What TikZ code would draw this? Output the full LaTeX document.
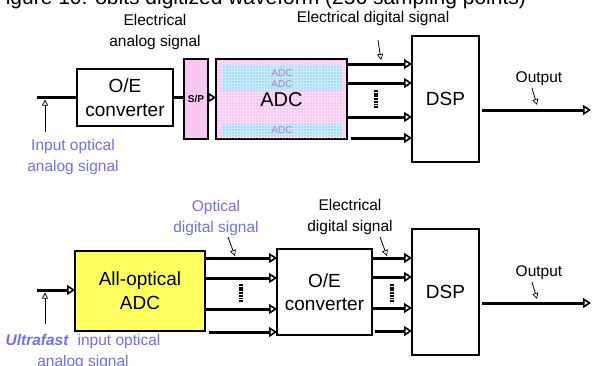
\documentclass[tikz,border=0pt]{standalone}
\usepackage{fontspec}
\setmainfont{Liberation Sans}
\usetikzlibrary{arrows.meta,calc,patterns}
\definecolor{lblue}{RGB}{112,112,240}
\definecolor{pinkf}{RGB}{248,200,242}
\definecolor{bandb}{RGB}{168,222,250}
\definecolor{yell}{RGB}{255,255,96}
\definecolor{smalladc}{RGB}{176,130,184}
\tikzset{
  every node/.style={inner sep=0pt, outer sep=0pt},
  wire/.style={line width=3pt},
  bighead/.style={wire, -{Triangle[open,length=8pt,width=10pt,line width=1.6pt]}},
  leader/.style={line width=0.8pt, -{Triangle[open,length=6pt,width=6pt,line width=0.7pt]}},
  lab/.style={font=\fontsize{15.5}{21}\selectfont, align=center},
  boxtxt/.style={font=\fontsize{19}{24}\selectfont, align=center},
  smalltxt/.style={font=\fontsize{10}{12}\selectfont, text=smalladc},
  dotsbar/.style={line width=3.6pt, dash pattern=on 1.8pt off 0.9pt},
}
\begin{document}
\begin{tikzpicture}[x=1pt,y=-1pt]
\clip (0,0) rectangle (592,365);
\fill[white] (0,0) rectangle (592,365);
% title (cropped by the frame, as in the reference)
\node[anchor=base east, font=\fontsize{21}{24}\selectfont] (title) at (526,4) {Figure 10: 8bits digitized waveform (256 sampling points)};

% ---------------- top row ----------------
\node[draw, line width=2.5pt, minimum width=96pt, minimum height=57pt, boxtxt] (oe1) at (125,97.5) {O/E\\converter};
\node[draw, line width=1.5pt, fill=pinkf, minimum width=24pt, minimum height=80pt, font=\bfseries\fontsize{10}{12}\selectfont] (sp) at (196,99) {S/P};
\node[draw, line width=1.6pt, fill=pinkf, minimum width=131pt, minimum height=80pt] (adc1) at (281.5,99) {};
\fill[bandb] ($(adc1.north west)+(6,6)$) rectangle ($(adc1.north east)+(-5,32)$);
\fill[bandb] ($(adc1.north west)+(6,65)$) rectangle ($(adc1.north east)+(-5,77)$);
\fill[pattern=grid, pattern color=white, opacity=0.35] ($(adc1.north west)+(1,1)$) rectangle ($(adc1.south east)+(-1,-1)$);
\node[boxtxt, font=\fontsize{20}{24}\selectfont] (adct) at ($(adc1.center)+(0,1)$) {ADC};
\node[smalltxt] (s1) at (282,73) {ADC};
\node[smalltxt] (s2) at (282,84) {ADC};
\node[smalltxt] (s3) at (282,130) {ADC};
\node[draw, line width=1.3pt, minimum width=67pt, minimum height=126pt, boxtxt] (dsp1) at (445.5,99) {DSP};

\coordinate (in1) at (37,97.5);
\draw[wire] (in1) -- (oe1.west);
\draw[wire] (oe1.east) -- (oe1.east -| sp.west);
\draw[bighead] (sp.east |- oe1.east) -- (adc1.west |- oe1.east);

\coordinate (t1) at ($(adc1.north east)+(0,5)$);
\coordinate (t2) at ($(adc1.north east)+(0,24)$);
\coordinate (t3) at ($(adc1.north east)+(0,58)$);
\coordinate (t4) at ($(adc1.north east)+(4,79)$);
\foreach \t in {t1,t2,t3,t4} \draw[bighead] (\t) -- (\t -| dsp1.west);
\draw[dotsbar] (376,90) -- (376,108);

\coordinate (o1s) at ($(dsp1.east)+(3,11)$);
\coordinate (o1e) at (591,110);
\draw[bighead] (o1s) -- (o1e);

\node[lab] (lEA) at (155,31.5) {Electrical\\analog signal};
\node[lab] (lED) at (373,18) {Electrical digital signal};
\node[lab, text=lblue] (lIn) at (73,156.5) {Input optical\\analog signal};
\node[lab] (lOut1) at (539,79) {Output};

\coordinate (u1) at (45,132);  \coordinate (u1e) at (45,99.5);
\draw[leader] (u1) -- (u1e);
\coordinate (a1) at (378,40);  \coordinate (a1e) at (381,60);
\draw[leader] (a1) -- (a1e);
\coordinate (b1) at (532,88);  \coordinate (b1e) at (537,105);
\draw[leader] (b1) -- (b1e);

% ---------------- bottom row ----------------
\node[draw, line width=2pt, fill=yell, minimum width=130pt, minimum height=80pt, boxtxt] (aadc) at (140,291) {All-optical\\ADC};
\node[draw, line width=2.5pt, minimum width=95pt, minimum height=86pt, boxtxt, font=\fontsize{19}{23}\selectfont] (oe2) at (324.5,292) {O/E\\converter};
\node[draw, line width=1.3pt, minimum width=67pt, minimum height=126pt, boxtxt] (dsp2) at (445.5,292) {DSP};

\coordinate (in2) at (37,290);
\draw[bighead] (in2) -- (in2 -| aadc.west);

\coordinate (m1) at ($(aadc.north east)+(0,7)$);
\coordinate (m2) at ($(aadc.north east)+(0,27)$);
\coordinate (m3) at ($(aadc.north east)+(0,58)$);
\coordinate (m4) at ($(aadc.north east)+(4,81)$);
\foreach \t in {m1,m2,m3,m4} \draw[bighead] (\t) -- (\t -| oe2.west);
\draw[dotsbar] (241,284) -- (241,302);

\coordinate (n1) at ($(oe2.north east)+(0,9)$);
\coordinate (n2) at ($(oe2.north east)+(0,28)$);
\coordinate (n3) at ($(oe2.north east)+(0,59)$);
\coordinate (n4) at ($(oe2.north east)+(3,82)$);
\foreach \t in {n1,n2,n3,n4} \draw[bighead] (\t) -- (\t -| dsp2.west);
\draw[dotsbar] (392,284) -- (392,302);

\coordinate (o2s) at ($(dsp2.east)+(3,11)$);
\coordinate (o2e) at (591,303);
\draw[bighead] (o2s) -- (o2e);

\node[lab, text=lblue] (lOD) at (216,217.5) {Optical\\digital signal};
\node[lab] (lED2) at (350,216.5) {Electrical\\digital signal};
\node[lab] (lOut2) at (539,273) {Output};
\node[lab, text=lblue] (lUf) at (83,352) {\textbf{\textit{Ultrafast}}\ \ input optical\\analog signal};

\coordinate (u2) at (45,324);  \coordinate (u2e) at (45,292.5);
\draw[leader] (u2) -- (u2e);
\coordinate (c1) at (228,237);  \coordinate (c1e) at (235,256);
\draw[leader] (c1) -- (c1e);
\coordinate (d1) at (380,237);  \coordinate (d1e) at (387,256);
\draw[leader] (d1) -- (d1e);
\coordinate (e1) at (532,282);  \coordinate (e1e) at (537,299);
\draw[leader] (e1) -- (e1e);
\end{tikzpicture}
\end{document}
